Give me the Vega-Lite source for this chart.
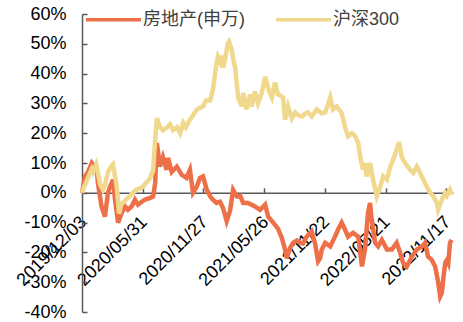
{
"$schema": "https://vega.github.io/schema/vega-lite/v6.json",
"width": 371, "height": 298,
"autosize": {"type": "none"},
"padding": {"left": 82, "top": 14, "right": 10, "bottom": 10},
"background": "white",
"config": {"view": {"stroke": null}, "font": "Liberation Sans"},
"data": {"values": [
{"s":"房地产(申万)","d":"2019/12/03","v":0},{"s":"房地产(申万)","d":"2019/12/12","v":5.5},{"s":"房地产(申万)","d":"2019/12/21","v":7},{"s":"房地产(申万)","d":"2020/01/01","v":10},{"s":"房地产(申万)","d":"2020/01/05","v":9.4},{"s":"房地产(申万)","d":"2020/01/16","v":7.7},{"s":"房地产(申万)","d":"2020/01/19","v":3.3},{"s":"房地产(申万)","d":"2020/01/30","v":-4.6},{"s":"房地产(申万)","d":"2020/02/09","v":-8},{"s":"房地产(申万)","d":"2020/02/18","v":0},{"s":"房地产(申万)","d":"2020/02/24","v":2},{"s":"房地产(申万)","d":"2020/03/04","v":4.4},{"s":"房地产(申万)","d":"2020/03/10","v":-2.3},{"s":"房地产(申万)","d":"2020/03/19","v":-10},{"s":"房地产(申万)","d":"2020/03/30","v":-6.7},{"s":"房地产(申万)","d":"2020/04/09","v":-4.6},{"s":"房地产(申万)","d":"2020/04/17","v":-5.7},{"s":"房地产(申万)","d":"2020/04/28","v":-4.6},{"s":"房地产(申万)","d":"2020/05/08","v":-2.3},{"s":"房地产(申万)","d":"2020/05/17","v":-4},{"s":"房地产(申万)","d":"2020/05/28","v":-3},{"s":"房地产(申万)","d":"2020/06/07","v":-2.3},{"s":"房地产(申万)","d":"2020/06/22","v":-1.7},{"s":"房地产(申万)","d":"2020/07/01","v":-1.2},{"s":"房地产(申万)","d":"2020/07/07","v":3.3},{"s":"房地产(申万)","d":"2020/07/12","v":16.7},{"s":"房地产(申万)","d":"2020/07/21","v":8.8},{"s":"房地产(申万)","d":"2020/07/30","v":12},{"s":"房地产(申万)","d":"2020/08/10","v":7.7},{"s":"房地产(申万)","d":"2020/08/14","v":11.7},{"s":"房地产(申万)","d":"2020/08/25","v":7},{"s":"房地产(申万)","d":"2020/09/09","v":8.8},{"s":"房地产(申万)","d":"2020/09/24","v":6},{"s":"房地产(申万)","d":"2020/10/08","v":5},{"s":"房地产(申万)","d":"2020/10/18","v":7.7},{"s":"房地产(申万)","d":"2020/10/27","v":0},{"s":"房地产(申万)","d":"2020/11/07","v":2},{"s":"房地产(申万)","d":"2020/11/17","v":5},{"s":"房地产(申万)","d":"2020/11/26","v":5.5},{"s":"房地产(申万)","d":"2020/12/07","v":1},{"s":"房地产(申万)","d":"2020/12/17","v":-1.2},{"s":"房地产(申万)","d":"2020/12/25","v":-2.3},{"s":"房地产(申万)","d":"2021/01/05","v":-3.4},{"s":"房地产(申万)","d":"2021/01/15","v":-3},{"s":"房地产(申万)","d":"2021/01/24","v":-5},{"s":"房地产(申万)","d":"2021/02/04","v":-9.5},{"s":"房地产(申万)","d":"2021/02/14","v":-6},{"s":"房地产(申万)","d":"2021/02/23","v":1},{"s":"房地产(申万)","d":"2021/03/06","v":-1.2},{"s":"房地产(申万)","d":"2021/03/16","v":-1},{"s":"房地产(申万)","d":"2021/03/25","v":-3.4},{"s":"房地产(申万)","d":"2021/04/08","v":-3.4},{"s":"房地产(申万)","d":"2021/04/29","v":-4.6},{"s":"房地产(申万)","d":"2021/05/14","v":-5.7},{"s":"房地产(申万)","d":"2021/05/29","v":-4},{"s":"房地产(申万)","d":"2021/06/07","v":-8},{"s":"房地产(申万)","d":"2021/06/22","v":-10},{"s":"房地产(申万)","d":"2021/07/06","v":-12},{"s":"房地产(申万)","d":"2021/07/17","v":-15},{"s":"房地产(申万)","d":"2021/07/27","v":-19},{"s":"房地产(申万)","d":"2021/08/01","v":-22},{"s":"房地产(申万)","d":"2021/08/11","v":-18.5},{"s":"房地产(申万)","d":"2021/08/20","v":-16.8},{"s":"房地产(申万)","d":"2021/08/31","v":-16},{"s":"房地产(申万)","d":"2021/09/10","v":-16.8},{"s":"房地产(申万)","d":"2021/09/18","v":-17},{"s":"房地产(申万)","d":"2021/09/29","v":-14.7},{"s":"房地产(申万)","d":"2021/10/14","v":-13},{"s":"房地产(申万)","d":"2021/10/24","v":-17},{"s":"房地产(申万)","d":"2021/11/02","v":-23},{"s":"房地产(申万)","d":"2021/11/08","v":-22},{"s":"房地产(申万)","d":"2021/11/13","v":-19},{"s":"房地产(申万)","d":"2021/11/23","v":-16.8},{"s":"房地产(申万)","d":"2021/12/08","v":-18},{"s":"房地产(申万)","d":"2021/12/22","v":-14.7},{"s":"房地产(申万)","d":"2021/12/31","v":-12.4},{"s":"房地产(申万)","d":"2022/01/11","v":-10},{"s":"房地产(申万)","d":"2022/01/21","v":-12.4},{"s":"房地产(申万)","d":"2022/01/30","v":-14.7},{"s":"房地产(申万)","d":"2022/02/14","v":-13.4},{"s":"房地产(申万)","d":"2022/03/01","v":-14.7},{"s":"房地产(申万)","d":"2022/03/12","v":-24.7},{"s":"房地产(申万)","d":"2022/03/21","v":-19},{"s":"房地产(申万)","d":"2022/03/30","v":-6.7},{"s":"房地产(申万)","d":"2022/04/05","v":-3.4},{"s":"房地产(申万)","d":"2022/04/10","v":-9},{"s":"房地产(申万)","d":"2022/04/20","v":-16.8},{"s":"房地产(申万)","d":"2022/04/29","v":-18},{"s":"房地产(申万)","d":"2022/05/10","v":-15.8},{"s":"房地产(申万)","d":"2022/05/25","v":-19},{"s":"房地产(申万)","d":"2022/06/09","v":-19},{"s":"房地产(申万)","d":"2022/06/23","v":-16.8},{"s":"房地产(申万)","d":"2022/07/03","v":-20},{"s":"房地产(申万)","d":"2022/07/12","v":-23.5},{"s":"房地产(申万)","d":"2022/07/23","v":-24.7},{"s":"房地产(申万)","d":"2022/08/07","v":-21.4},{"s":"房地产(申万)","d":"2022/08/22","v":-19},{"s":"房地产(申万)","d":"2022/09/06","v":-18},{"s":"房地产(申万)","d":"2022/09/15","v":-16.8},{"s":"房地产(申万)","d":"2022/09/24","v":-21.4},{"s":"房地产(申万)","d":"2022/10/05","v":-22.5},{"s":"房地产(申万)","d":"2022/10/15","v":-24.7},{"s":"房地产(申万)","d":"2022/10/24","v":-30},{"s":"房地产(申万)","d":"2022/10/30","v":-34.8},{"s":"房地产(申万)","d":"2022/11/04","v":-33.6},{"s":"房地产(申万)","d":"2022/11/08","v":-29},{"s":"房地产(申万)","d":"2022/11/14","v":-23.5},{"s":"房地产(申万)","d":"2022/11/19","v":-22.5},{"s":"房地产(申万)","d":"2022/11/23","v":-23.5},{"s":"房地产(申万)","d":"2022/11/28","v":-16.8},{"s":"房地产(申万)","d":"2022/12/03","v":-15.8},
{"s":"沪深300","d":"2019/12/03","v":0},{"s":"沪深300","d":"2019/12/09","v":2},{"s":"沪深300","d":"2019/12/17","v":4},{"s":"沪深300","d":"2019/12/24","v":6},{"s":"沪深300","d":"2020/01/01","v":8},{"s":"沪深300","d":"2020/01/05","v":7},{"s":"沪深300","d":"2020/01/14","v":9.5},{"s":"沪深300","d":"2020/01/19","v":7},{"s":"沪深300","d":"2020/01/25","v":3},{"s":"沪深300","d":"2020/02/03","v":1},{"s":"沪深300","d":"2020/02/09","v":2.5},{"s":"沪深300","d":"2020/02/18","v":7},{"s":"沪深300","d":"2020/02/29","v":9},{"s":"沪深300","d":"2020/03/04","v":9.5},{"s":"沪深300","d":"2020/03/15","v":2},{"s":"沪深300","d":"2020/03/19","v":-3},{"s":"沪深300","d":"2020/03/22","v":-7},{"s":"沪深300","d":"2020/03/28","v":-4},{"s":"沪深300","d":"2020/04/06","v":-3},{"s":"沪深300","d":"2020/04/14","v":-2},{"s":"沪深300","d":"2020/04/23","v":-1},{"s":"沪深300","d":"2020/05/02","v":0},{"s":"沪深300","d":"2020/05/11","v":1},{"s":"沪深300","d":"2020/05/23","v":1.5},{"s":"沪深300","d":"2020/06/01","v":2},{"s":"沪深300","d":"2020/06/07","v":3},{"s":"沪深300","d":"2020/06/16","v":4},{"s":"沪深300","d":"2020/06/22","v":5},{"s":"沪深300","d":"2020/07/01","v":7.5},{"s":"沪深300","d":"2020/07/07","v":18},{"s":"沪深300","d":"2020/07/12","v":25},{"s":"沪深300","d":"2020/07/21","v":22},{"s":"沪深300","d":"2020/07/30","v":21},{"s":"沪深300","d":"2020/08/11","v":22},{"s":"沪深300","d":"2020/08/20","v":23},{"s":"沪深300","d":"2020/08/29","v":21},{"s":"沪深300","d":"2020/09/10","v":22},{"s":"沪深300","d":"2020/09/19","v":20},{"s":"沪深300","d":"2020/09/28","v":23.5},{"s":"沪深300","d":"2020/10/06","v":22},{"s":"沪深300","d":"2020/10/18","v":24.5},{"s":"沪深300","d":"2020/10/27","v":26},{"s":"沪深300","d":"2020/11/08","v":28},{"s":"沪深300","d":"2020/11/17","v":28.5},{"s":"沪深300","d":"2020/11/26","v":29},{"s":"沪深300","d":"2020/12/05","v":31},{"s":"沪深300","d":"2020/12/17","v":31},{"s":"沪深300","d":"2020/12/25","v":34.5},{"s":"沪深300","d":"2021/01/05","v":43.6},{"s":"沪深300","d":"2021/01/09","v":45.6},{"s":"沪深300","d":"2021/01/15","v":44},{"s":"沪深300","d":"2021/01/20","v":46},{"s":"沪深300","d":"2021/01/24","v":42},{"s":"沪深300","d":"2021/01/30","v":44.6},{"s":"沪深300","d":"2021/02/07","v":50},{"s":"沪深300","d":"2021/02/11","v":50.7},{"s":"沪深300","d":"2021/02/19","v":48},{"s":"沪深300","d":"2021/02/23","v":45},{"s":"沪深300","d":"2021/03/01","v":42},{"s":"沪深300","d":"2021/03/10","v":32},{"s":"沪深300","d":"2021/03/21","v":29},{"s":"沪深300","d":"2021/03/25","v":33.5},{"s":"沪深300","d":"2021/04/04","v":28},{"s":"沪深300","d":"2021/04/14","v":33},{"s":"沪深300","d":"2021/04/19","v":29},{"s":"沪深300","d":"2021/04/29","v":34},{"s":"沪深300","d":"2021/05/08","v":30},{"s":"沪深300","d":"2021/05/19","v":33.5},{"s":"沪深300","d":"2021/05/29","v":39},{"s":"沪深300","d":"2021/06/03","v":36.8},{"s":"沪深300","d":"2021/06/10","v":34},{"s":"沪深300","d":"2021/06/18","v":32},{"s":"沪深300","d":"2021/06/27","v":37},{"s":"沪深300","d":"2021/07/06","v":33},{"s":"沪深300","d":"2021/07/15","v":32.5},{"s":"沪深300","d":"2021/07/21","v":32},{"s":"沪深300","d":"2021/07/27","v":24.5},{"s":"沪深300","d":"2021/08/05","v":29},{"s":"沪深300","d":"2021/08/16","v":25},{"s":"沪深300","d":"2021/08/26","v":27},{"s":"沪深300","d":"2021/09/04","v":26},{"s":"沪深300","d":"2021/09/15","v":25.6},{"s":"沪深300","d":"2021/09/24","v":26.5},{"s":"沪深300","d":"2021/10/03","v":27},{"s":"沪深300","d":"2021/10/14","v":25.6},{"s":"沪深300","d":"2021/10/29","v":28},{"s":"沪深300","d":"2021/11/13","v":26.7},{"s":"沪深300","d":"2021/11/23","v":27},{"s":"沪深300","d":"2021/12/08","v":32},{"s":"沪深300","d":"2021/12/16","v":28},{"s":"沪深300","d":"2021/12/27","v":29},{"s":"沪深300","d":"2022/01/11","v":26.7},{"s":"沪深300","d":"2022/01/21","v":22},{"s":"沪深300","d":"2022/01/30","v":19},{"s":"沪深300","d":"2022/02/10","v":20},{"s":"沪深300","d":"2022/02/20","v":19},{"s":"沪深300","d":"2022/03/01","v":16.7},{"s":"沪深300","d":"2022/03/07","v":12},{"s":"沪深300","d":"2022/03/15","v":7.7},{"s":"沪深300","d":"2022/03/21","v":10},{"s":"沪深300","d":"2022/03/26","v":5.5},{"s":"沪深300","d":"2022/04/05","v":10},{"s":"沪深300","d":"2022/04/14","v":4.4},{"s":"沪深300","d":"2022/04/25","v":-1.2},{"s":"沪深300","d":"2022/05/05","v":2},{"s":"沪深300","d":"2022/05/14","v":5.5},{"s":"沪深300","d":"2022/05/25","v":4.4},{"s":"沪深300","d":"2022/06/04","v":8.8},{"s":"沪深300","d":"2022/06/12","v":11},{"s":"沪深300","d":"2022/06/23","v":14.4},{"s":"沪深300","d":"2022/06/30","v":17},{"s":"沪深300","d":"2022/07/08","v":12},{"s":"沪深300","d":"2022/07/18","v":10},{"s":"沪深300","d":"2022/08/02","v":7.7},{"s":"沪深300","d":"2022/08/11","v":6.7},{"s":"沪深300","d":"2022/08/22","v":8.8},{"s":"沪深300","d":"2022/08/31","v":6.7},{"s":"沪深300","d":"2022/09/15","v":3.3},{"s":"沪深300","d":"2022/09/30","v":0},{"s":"沪深300","d":"2022/10/09","v":-1},{"s":"沪深300","d":"2022/10/20","v":-3.4},{"s":"沪深300","d":"2022/10/24","v":-5.7},{"s":"沪深300","d":"2022/11/04","v":-2.3},{"s":"沪深300","d":"2022/11/14","v":0},{"s":"沪深300","d":"2022/11/19","v":-1},{"s":"沪深300","d":"2022/11/28","v":1},{"s":"沪深300","d":"2022/12/03","v":-0.7}
]},
"mark": {"type": "line", "strokeWidth": 4.5},
"encoding": {
"x": {"field": "d", "type": "temporal",
 "scale": {"domain": [{"year": 2019, "month": 12, "date": 3}, {"year": 2022, "month": 12, "date": 7}]},
 "axis": {"title": null, "grid": false, "format": "%Y/%m/%d",
  "values": [{"year": 2019, "month": 12, "date": 3}, {"year": 2020, "month": 5, "date": 31}, {"year": 2020, "month": 11, "date": 27}, {"year": 2021, "month": 5, "date": 26}, {"year": 2021, "month": 11, "date": 22}, {"year": 2022, "month": 5, "date": 21}, {"year": 2022, "month": 11, "date": 17}],
  "labelAngle": -45, "labelAlign": "right", "labelBaseline": "top", "labelFontSize": 18, "labelFont": "Liberation Sans", "labelColor": "#000000",
  "labelPadding": 25, "labelOffset": -5, "tickSize": -5, "tickColor": "#595959", "domainColor": "#595959", "domainWidth": 1.5, "tickWidth": 1.5,
  "offset": -119.2, "labelOverlap": false, "labelBound": false, "labelFlush": false}},
"y": {"field": "v", "type": "quantitative",
 "scale": {"domain": [-40, 60], "nice": false, "zero": false},
 "axis": {"title": null, "grid": false, "values": [-40, -30, -20, -10, 0, 10, 20, 30, 40, 50, 60],
  "labelExpr": "datum.value + '%'", "labelFontSize": 18, "labelFont": "Liberation Sans", "labelColor": "#000000",
  "labelPadding": 21, "tickSize": -5, "tickColor": "#595959", "domainColor": "#595959", "domainWidth": 1.5, "tickWidth": 1.5, "labelOverlap": false, "labelBound": false, "labelFlush": false}},
"color": {"field": "s", "type": "nominal",
 "scale": {"domain": ["房地产(申万)", "沪深300"], "range": ["#EE7049", "#F0D88C"]},
 "legend": {"title": null, "orient": "none", "legendX": 2, "legendY": -24, "direction": "horizontal",
  "symbolType": "stroke", "symbolSize": 3025, "symbolStrokeWidth": 3.5, "labelFontSize": 18, "labelFont": "Liberation Sans, Noto Sans CJK SC",
  "labelColor": "#404040", "labelOffset": 0, "columnPadding": 24, "padding": 0}}
}
}
